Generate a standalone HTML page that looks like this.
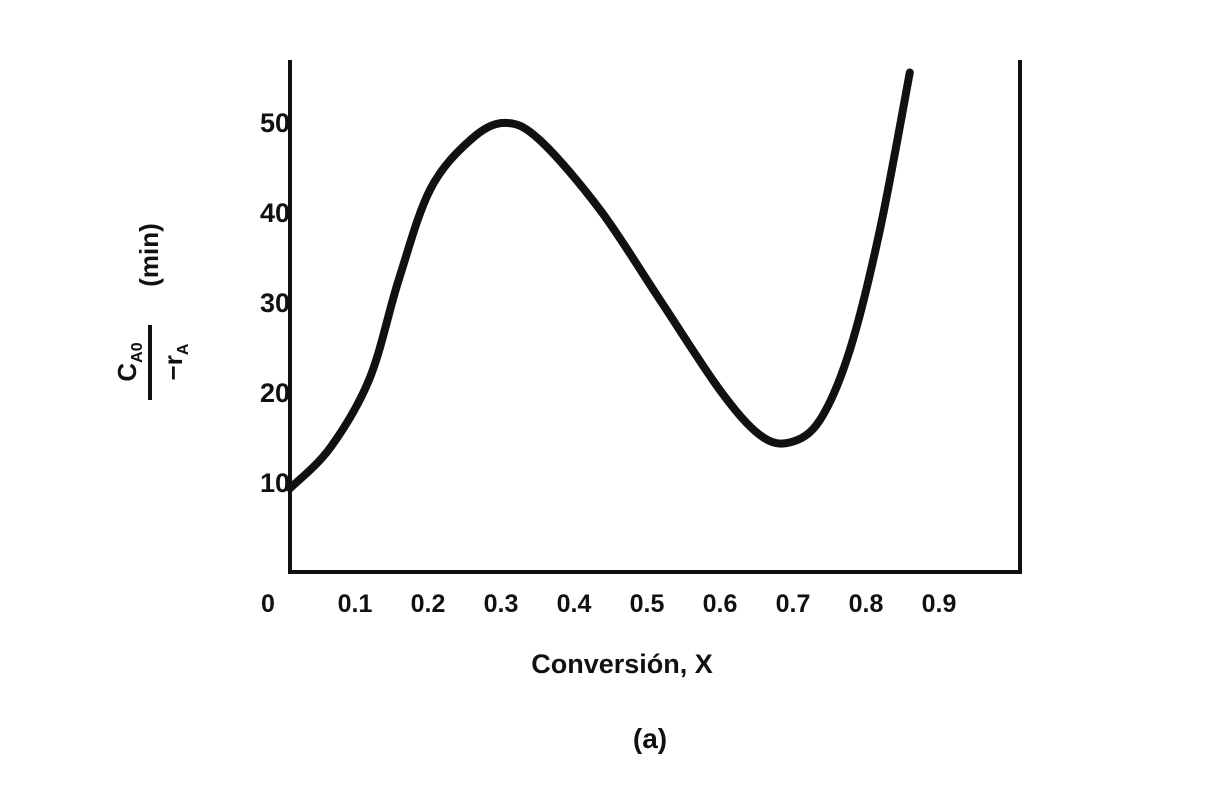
<!DOCTYPE html>
<html><head><meta charset="utf-8"><style>
body{margin:0;background:#fff;width:1222px;height:780px;overflow:hidden}
text{font-family:"Liberation Sans",sans-serif;font-weight:bold;fill:#111}
</style></head><body>
<svg id="chart" width="1222" height="780" viewBox="0 0 1222 780">
<g id="axes"></g>
<path id="curve" fill="none" stroke="#111" stroke-width="8" stroke-linecap="round"/>
<text x="622" y="673" font-size="27" text-anchor="middle">Conversión, X</text>
<text x="650" y="748" font-size="28" text-anchor="middle">(a)</text>
<g transform="translate(150,0) rotate(-90)">
<text x="-255" y="8" font-size="26" text-anchor="middle">(min)</text>
<text x="-362" y="-14" font-size="26" text-anchor="middle">C<tspan font-size="16" dy="6">A0</tspan></text>
<line x1="-400" y1="0" x2="-325" y2="0" stroke="#111" stroke-width="4"/>
<text x="-362" y="32" font-size="26" text-anchor="middle">−r<tspan font-size="16" dy="6">A</tspan></text>
</g>
</svg>
<script>
const xTicks=[0,0.1,0.2,0.3,0.4,0.5,0.6,0.7,0.8,0.9];
const xTickLabels=["0","0.1","0.2","0.3","0.4","0.5","0.6","0.7","0.8","0.9"];
const yTicks=[10,20,30,40,50];
const yTickLabels=["10","20","30","40","50"];
const conversion=[0.011,0.066,0.12,0.16,0.203,0.258,0.305,0.353,0.436,0.518,0.6,0.655,0.696,0.737,0.778,0.819,0.86];
const timeValues=[9.3,13.8,21.5,32.5,42.5,48.0,49.9,48.0,40.2,30.2,20.2,15.2,14.4,16.9,24.7,38,55.5];
const xs=v=>282+v*730, ys=v=>572-v*9;
const ns="http://www.w3.org/2000/svg";
const ax=document.getElementById('axes');
function mk(t,a){const e=document.createElementNS(ns,t);for(const k in a)e.setAttribute(k,a[k]);return e;}
const frame=mk('path',{d:'M290 60 V572 H1020 V60',fill:'none',stroke:'#111','stroke-width':4});


ax.appendChild(frame);
xTicks.forEach((v,i)=>{const t=mk('text',{x:xs(v)-(i==0?14:0),y:612,'font-size':25,'text-anchor':'middle'});t.textContent=xTickLabels[i];


ax.appendChild(t);});
yTicks.forEach((v,i)=>{const t=mk('text',{x:290,y:ys(v)+10,'font-size':27,'text-anchor':'end'});t.textContent=yTickLabels[i];


ax.appendChild(t);});
const pts=conversion.map((c,i)=>[xs(c),ys(timeValues[i])]);
let d='M'+pts[0][0]+' '+pts[0][1];
for(let i=0;i<pts.length-1;i++){const p0=pts[Math.max(0,i-1)],p1=pts[i],p2=pts[i+1],p3=pts[Math.min(pts.length-1,i+2)];
d+=` C${p1[0]+(p2[0]-p0[0])/6} ${p1[1]+(p2[1]-p0[1])/6} ${p2[0]-(p3[0]-p1[0])/6} ${p2[1]-(p3[1]-p1[1])/6} ${p2[0]} ${p2[1]}`;}
document.getElementById('curve').setAttribute('d',d);
</script>
</body></html>
